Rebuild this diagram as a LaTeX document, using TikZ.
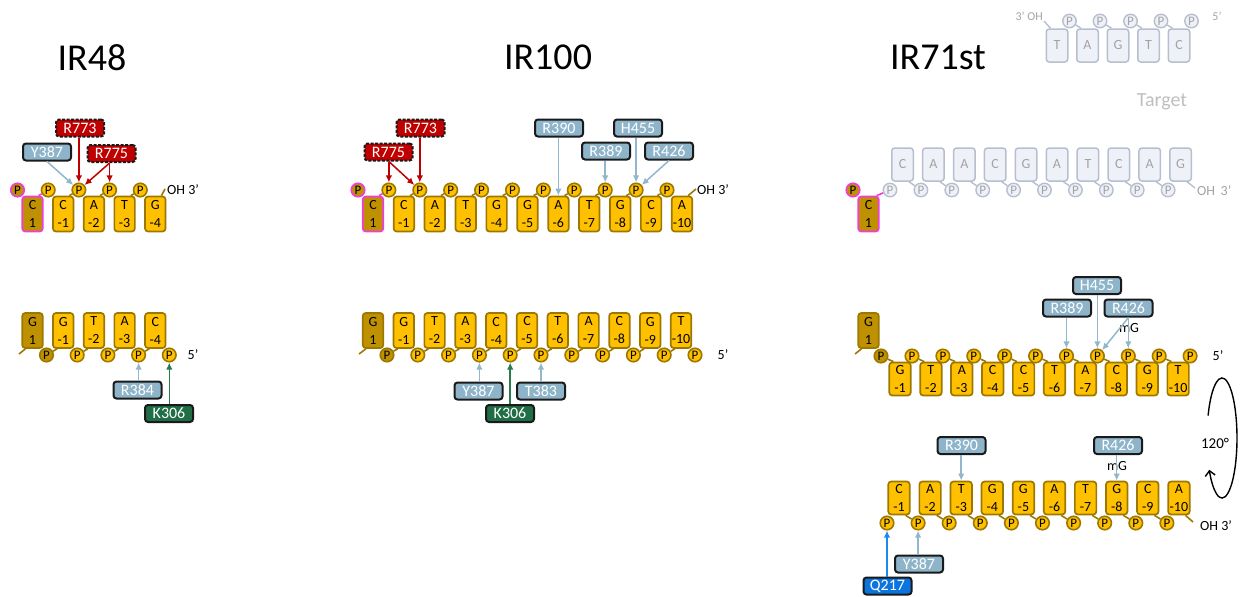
\documentclass[tikz,border=0pt]{standalone}
\usepackage{fontspec}
\setmainfont{Carlito}
\usetikzlibrary{arrows.meta,calc}
\definecolor{ngold}{HTML}{FFC000}
\definecolor{nbord}{HTML}{9C7800}
\definecolor{ndark}{HTML}{BF9000}
\definecolor{nmag}{HTML}{F03CDC}
\definecolor{gfill}{HTML}{EEF1F8}
\definecolor{gbord}{HTML}{B7BECE}
\definecolor{gtext}{HTML}{A3A3A3}
\definecolor{lblue}{HTML}{8EB4CA}
\definecolor{ablue}{HTML}{92B7CC}
\definecolor{dred}{HTML}{C00000}
\definecolor{dgreen}{HTML}{1F6E45}
\definecolor{agreen}{HTML}{2A7A50}
\definecolor{qblue}{HTML}{0B74DE}
\definecolor{aqblue}{HTML}{1E88EE}
\definecolor{labbd}{HTML}{1A1A1A}
\definecolor{tgray}{HTML}{BFBFBF}
\tikzset{
 nb/.style={draw=nbord, fill=ngold, line width=1.7pt, rounded corners=3pt, minimum width=20.5pt, minimum height=35pt, inner sep=0pt, align=center, font=\fontsize{14}{18}\selectfont},
 nw/.style={nb, minimum width=21.5pt, minimum height=33pt},
 ph/.style={circle, draw=nbord, fill=ngold, line width=1.6pt, minimum size=13.5pt, inner sep=0pt, font=\fontsize{13}{13}\selectfont},
 gbx/.style={draw=gbord, fill=gfill, line width=1.5pt, rounded corners=3pt, minimum width=21.5pt, minimum height=33pt, inner sep=0pt, text=gtext, font=\fontsize{14}{14}\selectfont},
 gph/.style={circle, draw=gbord, fill=gfill, line width=1.4pt, minimum size=13.5pt, inner sep=0pt, text=gtext, font=\fontsize{13}{13}\selectfont},
 tk/.style={draw=nbord, line width=1.6pt},
 gtk/.style={draw=gbord, line width=1.4pt},
 res/.style={draw=labbd, line width=2pt, rounded corners=3pt, minimum width=48pt, minimum height=17pt, inner sep=0pt, text=white, font=\fontsize{16}{16}\selectfont},
 resb/.style={res, fill=lblue},
 resr/.style={res, fill=dred, dash pattern=on 3pt off 1.5pt},
 resg/.style={res, fill=dgreen},
 resq/.style={res, fill=qblue},
 ab/.style={draw=ablue, line width=1.5pt, -{Latex[length=7pt,width=6.5pt]}},
 ar/.style={draw=dred, line width=1.5pt, -{Latex[length=7pt,width=6.5pt]}},
 ag/.style={draw=agreen, line width=1.5pt, -{Latex[length=7pt,width=6.5pt]}},
 aq/.style={draw=aqblue, line width=1.5pt, -{Latex[length=7pt,width=6.5pt]}},
 lbl/.style={font=\fontsize{14}{14}\selectfont, inner sep=0pt},
 ttl/.style={font=\fontsize{38}{40}\selectfont, inner sep=0pt}
}
\begin{document}
\begin{tikzpicture}[x=1pt,y=-1pt]
\useasboundingbox (0,0) rectangle (1240,597);
% titles
\node[ttl] (t48) at (92,57.5) {IR48};
\node[ttl] (t100) at (548,57.5) {IR100};
\node[ttl] (t71) at (938,57.5) {IR71st};

% ================= IR48 top strand
\node[nb, fill=ndark, draw=nmag] (at0) at (32.5,214) {C\\1};
\foreach \b/\n [count=\j] in {C/-1,A/-2,T/-3,G/-4}
  \node[nb] (at\j) at ({32.5+30.7*\j},214) {\b\\\n};
\node[ph, fill=ndark, draw=nmag] (ap0) at (17.5,190) {P};
\foreach \j in {1,...,4}
  \node[ph] (ap\j) at ({17.5+30.7*\j},190) {P};
\draw[tk, draw=nmag] ([shift={(-5,0)}]at0.north east) -- (ap1);
\foreach \i in {1,...,3}{\pgfmathtruncatemacro\k{\i+1}
  \draw[tk] ([shift={(-5,0)}]at\i.north east) -- (ap\k);}
\coordinate (aoh) at (165,189);
\draw[tk] ([shift={(-5,0)}]at4.north east) -- (aoh);
\node[lbl, anchor=west] (aohl) at (167,190) {OH 3'};
% labels
\node[resr] (ar773) at (80,128) {R773};
\node[resb] (ay387) at (47,152) {Y387};
\node[resr] (ar775) at (111.5,153.5) {R775};
\draw[ab] (ay387.south) -- (ap2);
\draw[ar] (ap2 |- ar773.south) -- (ap2);
\draw[ar] (ap3 |- ar775.south) -- (ap2);
\draw[ar] (ap3 |- ar775.south) -- (ap3);

% ================= IR48 bottom strand
\node[nb, fill=ndark] (bb0) at (32.5,330.5) {G\\1};
\foreach \b/\n [count=\j] in {G/-1,T/-2,A/-3,C/-4}
  \node[nb] (bb\j) at ({32.5+30.7*\j},330.5) {\b\\\n};
\node[ph, fill=ndark] (bp0) at (46.5,355) {P};
\foreach \j in {1,...,4}
  \node[ph] (bp\j) at ({46.5+30.7*\j},355) {P};
\coordinate (bend) at (19,354);
\draw[tk] ([shift={(4,0)}]bb0.south west) -- (bend);
\foreach \i in {1,...,4}{\pgfmathtruncatemacro\k{\i-1}
  \draw[tk] ([shift={(5,0)}]bb\i.south west) -- (bp\k);}
\node[lbl] (b5) at (193,355) {5'};
\node[resb] (br384) at (137.5,390) {R384};
\node[resg] (bk306) at (169,413.5) {K306};
\draw[ab] (bp3 |- br384.north) -- (bp3);
\draw[ag] (bp4 |- bk306.north) -- (bp4);

% ================= IR100 top strand
\node[nb, fill=ndark, draw=nmag] (ct0) at (373,214) {C\\1};
\foreach \b/\n [count=\j] in {C/-1,A/-2,T/-3,G/-4,G/-5,A/-6,T/-7,G/-8,C/-9,A/-10}
  \node[nb] (ct\j) at ({373+30.9*\j},214) {\b\\\n};
\node[ph, fill=ndark, draw=nmag] (cq0) at (358,190) {P};
\foreach \j in {1,...,10}
  \node[ph] (cq\j) at ({358+30.9*\j},190) {P};
\draw[tk, draw=nmag] ([shift={(-5,0)}]ct0.north east) -- (cq1);
\foreach \i in {1,...,9}{\pgfmathtruncatemacro\k{\i+1}
  \draw[tk] ([shift={(-5,0)}]ct\i.north east) -- (cq\k);}
\coordinate (coh) at (696,189);
\draw[tk] ([shift={(-5,0)}]ct10.north east) -- (coh);
\node[lbl, anchor=west] (cohl) at (697,190) {OH 3'};
\node[resr] (cr773) at (420.5,128) {R773};
\node[resr] (cr775) at (388.5,152) {R775};
\node[resb] (cr390) at (559,128) {R390};
\node[resb] (ch455) at (638,128) {H455};
\node[resb] (cr389) at (606,151) {R389};
\node[resb] (cr426) at (669,151) {R426};
\draw[ar] (cq1 |- cr775.south) -- (cq1);
\draw[ar] (cq1 |- cr775.south) -- (cq2);
\draw[ar] (cq2 |- cr773.south) -- (cq2);
\draw[ab] (ct6.north |- cr390.south) -- (ct6.north);
\draw[ab] (cq8 |- cr389.south) -- (cq8);
\draw[ab] (cq9 |- ch455.south) -- (cq9);
\draw[ab] (cr426.south) -- (cq9);

% ================= IR100 bottom strand
\node[nb, fill=ndark] (cb0) at (373,330.5) {G\\1};
\foreach \b/\n [count=\j] in {G/-1,T/-2,A/-3,C/-4,C/-5,T/-6,A/-7,C/-8,G/-9,T/-10}
  \node[nb] (cb\j) at ({373+30.8*\j},330.5) {\b\\\n};
\node[ph, fill=ndark] (cp0) at (387,355) {P};
\foreach \j in {1,...,10}
  \node[ph] (cp\j) at ({387+30.8*\j},355) {P};
\coordinate (cbend) at (359,354);
\draw[tk] ([shift={(4,0)}]cb0.south west) -- (cbend);
\foreach \i in {1,...,10}{\pgfmathtruncatemacro\k{\i-1}
  \draw[tk] ([shift={(5,0)}]cb\i.south west) -- (cp\k);}
\node[lbl] (c5) at (723,355) {5'};
\node[resb] (cy387) at (478.5,391) {Y387};
\node[resb] (ct383) at (541,391) {T383};
\node[resg] (ck306) at (510,413.5) {K306};
\draw[ab] (cp3 |- cy387.north) -- (cp3);
\draw[ab] (cp5 |- ct383.north) -- (cp5);
\draw[ag] (cp4 |- ck306.north) -- (cp4);

% ================= IR71st target (top, faded)
\foreach \b [count=\j from 0] in {T,A,G,T,C}
  \node[gbx] (gt\j) at ({1057+30.5*\j},45.5) {\b};
\foreach \j in {0,...,4}
  \node[gph] (gp\j) at ({1069.5+30.5*\j},21) {P};
\coordinate (gend) at (1044,21);
\draw[gtk] ([shift={(5,0)}]gt0.north west) -- (gend);
\foreach \i in {1,...,4}{\pgfmathtruncatemacro\k{\i-1}
  \draw[gtk] ([shift={(5,0)}]gt\i.north west) -- (gp\k);}
\node[lbl, text=gtext, font=\fontsize{12}{12}\selectfont, anchor=east] (g3oh) at (1043,16) {3' OH};
\node[lbl, text=gtext, font=\fontsize{12}{12}\selectfont] (g5) at (1217,16) {5'};
\node[font=\fontsize{20}{20}\selectfont, text=tgray, inner sep=0pt, anchor=base] (tgt) at (1162,106) {Target};

% ================= IR71st target (second, faded)
\foreach \b [count=\j from 0] in {C,A,A,C,G,A,T,C,A,G}
  \node[gbx] (gb\j) at ({902.5+30.9*\j},164.5) {\b};
\foreach \j in {0,...,9}
  \node[gph] (gq\j) at ({890+30.9*\j},190) {P};
\foreach \i in {0,...,8}{\pgfmathtruncatemacro\k{\i+1}
  \draw[gtk] ([shift={(-5,0)}]gb\i.south east) -- (gq\k);}
\coordinate (gbend) at (1195,188);
\draw[gtk] ([shift={(-5,0)}]gb9.south east) -- (gbend);
\node[lbl, text=gtext, anchor=west] (gboh) at (1197,190.5) {OH\, 3'};
% guide C1
\node[nb, fill=ndark, draw=nmag] (xc1) at (868.5,214) {C\\1};
\node[ph, fill=ndark, draw=nmag] (xp0) at (853,190) {P};
\draw[tk, draw=nmag] ([shift={(-3,0)}]xc1.north east) -- (gq0);

% ================= IR71st middle strand
\node[nb, fill=ndark] (m0) at (868.5,330.5) {G\\1};
\foreach \b/\n [count=\j] in {G/-1,T/-2,A/-3,C/-4,C/-5,T/-6,A/-7,C/-8,G/-9,T/-10}
  \node[nw] (mb\j) at ({900+30.9*(\j-1)},379) {\b\\\n};
\node[ph, fill=ndark] (mp0) at (881,356) {P};
\foreach \j in {1,...,10}
  \node[ph] (mp\j) at ({912+30.9*(\j-1)},356) {P};
\coordinate (mend) at (855,354);
\draw[tk] ([shift={(4,0)}]m0.south west) -- (mend);
\foreach \i in {1,...,10}{\pgfmathtruncatemacro\k{\i-1}
  \draw[tk] ([shift={(5,0)}]mb\i.north west) -- (mp\k);}
\node[lbl] (m5) at (1218,356) {5'};
\node[resb] (mh455) at (1097,285.5) {H455};
\node[resb] (mr389) at (1067,308) {R389};
\node[resb] (mr426) at (1128.5,308) {R426};
\node[lbl] (mmg) at (1129,328) {mG};
\draw[ab] (mp6 |- mr389.south) -- (mp6);
\draw[ab] (mp7 |- mh455.south) -- (mp7);
\draw[ab] (mr426.south) -- (mp7);
\draw[ab] (mp8 |- mr426.south) -- (mp8);

% rotation arrow
\coordinate (rc) at (1222,438);
\draw[line width=1.4pt, -{Straight Barb[length=5pt,width=10pt]}] (rc) ++(202:15 and 60) arc[start angle=202, end angle=508, x radius=15, y radius=60];
\node[font=\fontsize{15}{15}\selectfont, inner sep=0pt] (rot) at (1215,443) {120°};

% ================= IR71st bottom strand
\foreach \b/\n [count=\j] in {C/-1,A/-2,T/-3,G/-4,G/-5,A/-6,T/-7,G/-8,C/-9,A/-10}
  \node[nw] (lb\j) at ({899+31.1*(\j-1)},498) {\b\\\n};
\foreach \j in {1,...,10}
  \node[ph] (lp\j) at ({887+31.1*(\j-1)},523) {P};
\foreach \i in {1,...,9}{\pgfmathtruncatemacro\k{\i+1}
  \draw[tk] ([shift={(-5,0)}]lb\i.south east) -- (lp\k);}
\coordinate (lend) at (1193,522);
\draw[tk] ([shift={(-5,0)}]lb10.south east) -- (lend);
\node[lbl, anchor=west] (loh) at (1200,526) {OH 3'};
\node[resb] (lr390) at (961.5,445.5) {R390};
\node[resb] (lr426) at (1118,445.5) {R426};
\node[lbl] (lmg) at (1117,466) {mG};
\node[resb] (ly387) at (919,564) {Y387};
\node[resq] (lq217) at (887.5,586) {Q217};
\draw[ab] (lb3.north |- lr390.south) -- (lb3.north);
\draw[ab] (lb8.north |- lr426.south) -- (lb8.north);
\draw[ab] (lp2 |- ly387.north) -- (lp2);
\draw[aq] (lp1 |- lq217.north) -- (lp1);
\end{tikzpicture}
\end{document}
